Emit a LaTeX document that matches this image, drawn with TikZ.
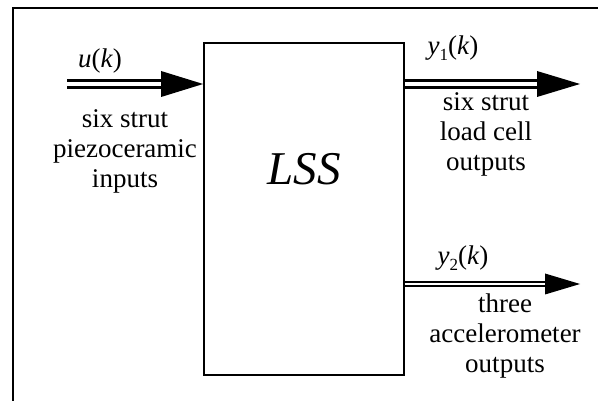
\documentclass[tikz,border=0pt]{standalone}
\usepackage{fontspec}
\setmainfont{Liberation Serif}
\usetikzlibrary{positioning}
\newcommand\sig[2]{\textit{#1}\raisebox{-.22em}{\fontsize{17}{17}\selectfont #2}(\textit{k})}

\tikzset{
    blockbox/.style={draw, line width=1.8pt, minimum width=200pt, minimum height=332pt, inner sep=0pt},
    lbl/.style={font=\fontsize{27}{30}\selectfont, align=center, inner sep=0pt, anchor=base},
    fatbus/.style={draw, line width=3.6pt, double=white, double distance=3.2pt},
    thinbus/.style={draw, line width=2.2pt, double=white, double distance=2pt},
}

\begin{document}
\begin{tikzpicture}[x=1pt,y=-1pt]
            \useasboundingbox (0,0) rectangle (598,401);
            % frame
            \draw[line width=1.8pt] (13,401) -- (13,8) -- (598,8);

            \node[blockbox] (lss) at (304,209) {};
            \node[lbl, font=\fontsize{47}{50}\selectfont\itshape] (name) at (304,185) {LSS};

            % input
            \coordinate (uin) at (67,84);
            \coordinate (utip) at (lss.west |- uin);
            \draw[fatbus] (uin) -- ([xshift=-36pt]utip);
            \fill (utip) -- ++(-42,-13) -- ++(0,26) -- cycle;
            \node[lbl] (ulab) at (100,68) {\textit{u}(\textit{k})};
            \node[lbl] (utext) at (125,188) {six strut\\piezoceramic\\inputs};

            % outputs
            \coordinate (yone) at (580,84);
            \coordinate (ytwo) at (580,284);
            \draw[fatbus] (lss.east |- yone) -- ([xshift=-38pt]yone);
            \fill (yone) -- ++(-43,-13) -- ++(0,26) -- cycle;
            \draw[thinbus] (lss.east |- ytwo) -- ([xshift=-30pt]ytwo);
            \fill (ytwo) -- ++(-35,-10.5) -- ++(0,21) -- cycle;

            \node[lbl] (yonelab) at (453,55) {\sig{y}{1}};
            \node[lbl] (yonetext) at (486,171) {six strut\\load cell\\outputs};
            \node[lbl] (ytwolab) at (463,265) {\sig{y}{2}};
            \node[lbl] (ytwotext) at (505,372) {three\\accelerometer\\outputs};
\end{tikzpicture}
\end{document}
